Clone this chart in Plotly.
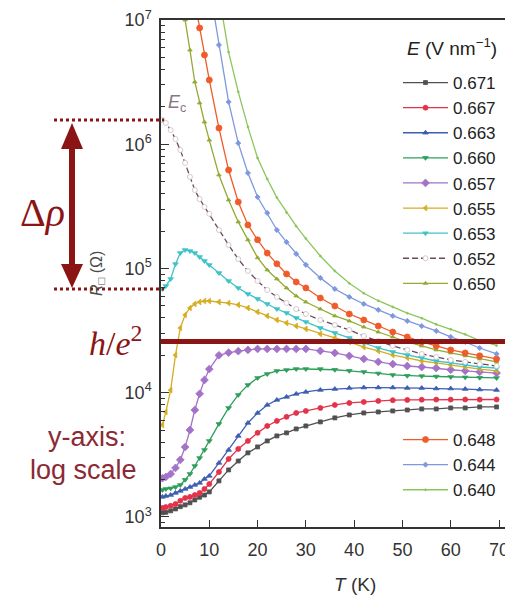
import math
import plotly.graph_objects as go

# ---------------- data ----------------
T_K = [0.3, 1, 2, 3, 4, 5, 6, 7, 8, 9, 10, 12, 14, 16, 18, 20, 22, 24, 26, 28,
       30, 33, 36, 39, 42, 45, 48, 51, 54, 57, 60, 63, 66, 69.5]

E_FIELDS = ["0.671", "0.667", "0.663", "0.660", "0.657", "0.655", "0.653",
            "0.652", "0.650", "0.648", "0.644", "0.640"]

R_0671 = [1080, 1090, 1120, 1160, 1210, 1250, 1300, 1370, 1440, 1500, 1590, 1950, 2390, 2820,
          3280, 3660, 4090, 4490, 4750, 5110, 5400, 5820, 6270, 6620, 6870, 7000, 7130, 7260,
          7400, 7400, 7540, 7540, 7680, 7680]
R_0667 = [1180, 1200, 1230, 1270, 1350, 1420, 1450, 1500, 1560, 1680, 1840, 2300, 2930, 3530,
          4090, 4750, 5400, 5930, 6390, 6870, 7130, 7540, 7970, 8270, 8430, 8590, 8700, 8750,
          8780, 8800, 8800, 8820, 8800, 8820]
R_0663 = [1450, 1475, 1500, 1560, 1620, 1680, 1740, 1810, 1880, 2020, 2140, 2720, 3460, 4490,
          5710, 6870, 7970, 8750, 9250, 9780, 10140, 10520, 10700, 10910, 11000, 11000, 11000,
          10900, 10900, 10800, 10800, 10700, 10600, 10500]
R_0660 = [1650, 1680, 1700, 1740, 1810, 1990, 2220, 2570, 2980, 3460, 4090, 5610, 7540, 9600,
          11540, 13150, 14160, 14970, 15230, 15520, 15520, 15500, 15300, 15000, 14700, 14300,
          13900, 13700, 13600, 13500, 13400, 13300, 13200, 13150]
R_0657 = [2050, 2100, 2220, 2480, 2880, 3650, 5010, 7260, 9800, 12660, 15500, 20000, 21000,
          21600, 22100, 22500, 22500, 22500, 22500, 22500, 22500, 21700, 20900, 19800, 18700,
          17700, 17000, 16400, 16100, 15800, 15300, 15000, 14700, 14400]
R_0655 = [5500, 7000, 10500, 20100, 33200, 42300, 48100, 51800, 53700, 54700, 54700, 53700,
          52700, 50900, 48100, 44700, 41500, 38500, 36400, 34400, 32600, 29700, 27600, 25600,
          23300, 21700, 20100, 19100, 18000, 17400, 16700, 16100, 15500, 15000]
R_0653 = [68400, 72300, 82300, 108600, 133300, 140900, 138000, 133300, 123800, 114900, 106700,
          92000, 79300, 69700, 62400, 56900, 51800, 47200, 43900, 40000, 37100, 33200, 30300,
          27600, 25100, 22900, 21300, 20100, 19100, 18000, 17400, 16700, 16100, 15800]
R_0652 = [1.567e6, 1.483e6, 1.30e6, 1.10e6, 8.99e5, 7.07e5, 5.45e5, 4.28e5, 3.62e5, 3.13e5,
          2.75e5, 2.04e5, 1.546e5, 1.19e5, 9.55e4, 7.93e4, 6.72e4, 5.90e4, 5.28e4, 4.72e4,
          4.30e4, 3.85e4, 3.51e4, 3.20e4, 2.86e4, 2.61e4, 2.38e4, 2.21e4, 2.05e4, 1.94e4,
          1.835e4, 1.77e4, 1.70e4, 1.64e4]
R_0650 = [None, None, None, 3.0e7, 1.77e7, 1.0e7, 5.73e6, 3.17e6, 2.15e6, 1.51e6, 1.08e6,
          5.66e5, 3.56e5, 2.37e5, 1.70e5, 1.22e5, 9.73e4, 8.23e4, 6.97e4, 6.01e4, 5.37e4,
          4.72e4, 4.15e4, 3.78e4, 3.38e4, 3.08e4, 2.81e4, 2.56e4, 2.38e4, 2.21e4, 2.09e4,
          1.98e4, 1.87e4, 1.77e4]
R_0648 = [None, None, None, None, None, None, 2.3e7, 1.40e7, 8.62e6, 5.23e6, 3.29e6, 1.35e6,
          6.2e5, 3.43e5, 2.24e5, 1.70e5, 1.33e5, 1.09e5, 9.03e4, 7.79e4, 6.97e4, 5.79e4,
          4.99e4, 4.30e4, 3.85e4, 3.44e4, 3.08e4, 2.81e4, 2.56e4, 2.38e4, 2.21e4, 2.09e4,
          1.98e4, 1.87e4]
R_0644 = [None, None, None, None, None, None, None, None, None, None, 1.9e7, 6.30e6, 2.19e6,
          1.02e6, 5.87e5, 3.76e5, 2.80e5, 2.04e5, 1.63e5, 1.31e5, 1.07e5, 8.40e4, 6.84e4,
          5.90e4, 5.18e4, 4.64e4, 4.15e4, 3.78e4, 3.44e4, 3.14e4, 2.81e4, 2.56e4, 2.29e4,
          2.05e4]
R_0640 = [None, None, None, None, None, None, None, None, None, None, None, 1.6e7, 5.52e6,
          2.64e6, 1.38e6, 7.76e5, 5.25e5, 3.72e5, 2.82e5, 2.19e5, 1.74e5, 1.26e5, 9.55e4,
          7.59e4, 6.31e4, 5.50e4, 4.90e4, 4.37e4, 3.98e4, 3.55e4, 3.24e4, 2.95e4, 2.63e4,
          2.40e4]

R_SERIES = [R_0671, R_0667, R_0663, R_0660, R_0657, R_0655, R_0653,
            R_0652, R_0650, R_0648, R_0644, R_0640]

H_OVER_E2 = 25813.0      # Ohm
E_C_R = 1.567e6          # resistance at E_c (top of delta rho)
DELTA_LOW_R = 6.84e4     # bottom of delta rho

X_TICKS = [0, 10, 20, 30, 40, 50, 60, 70]
Y_TICKS = [1e3, 1e4, 1e5, 1e6, 1e7]
Y_TICK_TEXT = ["10<sup>3</sup>", "10<sup>4</sup>", "10<sup>5</sup>",
               "10<sup>6</sup>", "10<sup>7</sup>"]

# ---------------- styling ----------------
STYLE = {
    "0.671": dict(color="#505050", symbol="square", size=4),
    "0.667": dict(color="#e3334b", symbol="circle", size=5),
    "0.663": dict(color="#3d5db3", symbol="triangle-up", size=5),
    "0.660": dict(color="#2f9e5c", symbol="triangle-down", size=5),
    "0.657": dict(color="#a372c9", symbol="diamond", size=6),
    "0.655": dict(color="#d6ad22", symbol="triangle-left", size=5),
    "0.653": dict(color="#3fc3c6", symbol="triangle-down", size=5),
    "0.652": dict(color="#6f4860", symbol="circle", size=5, fill="#ffffff",
                  mline="#c9bcc4", dash="6px,3px"),
    "0.650": dict(color="#93aa34", symbol="triangle-up", size=4),
    "0.648": dict(color="#ef5b29", symbol="circle", size=6),
    "0.644": dict(color="#7d98de", symbol="diamond", size=4),
    "0.640": dict(color="#8cc65e", symbol="circle", size=2),
}
LOWER_LEGEND = {"0.648", "0.644", "0.640"}

# The page body adds an 8px margin, so the figure is sized to the window minus it;
# helper functions below take positions measured on the 513x600 reference.
PAGE_OFF = 8
W, H = 505, 592
ML, MR, MT, MB = 153, 0, 12, 73
X_RANGE = [0, 72.9]
Y_RANGE_LOG = [2.919, 7.0]
DARK_RED = "#8b1414"
FONT = "Liberation Sans"


def xp(px):
    return (px - PAGE_OFF - ML) / (W - ML - MR)


def yp(py):
    return (H - MB - (py - PAGE_OFF)) / (H - MT - MB)


def yd(v):
    return (math.log10(v) - Y_RANGE_LOG[0]) / (Y_RANGE_LOG[1] - Y_RANGE_LOG[0])


def py_of(v):
    return H - MB - yd(v) * (H - MT - MB) + PAGE_OFF


fig = go.Figure()
for name, vals in zip(E_FIELDS, R_SERIES):
    st = STYLE[name]
    fig.add_trace(go.Scatter(
        x=T_K, y=vals, mode="lines+markers", name=name,
        legend="legend2" if name in LOWER_LEGEND else "legend",
        line=dict(color=st["color"], width=1.3, dash=st.get("dash", "solid")),
        marker=dict(symbol=st["symbol"], size=st["size"],
                    color=st.get("fill", st["color"]),
                    line=dict(color=st.get("mline", st["color"]), width=0.8)),
    ))

minor_vals = [m * 10 ** k for k in range(2, 7) for m in range(2, 10)]

shapes = [
    # h/e^2 line
    dict(type="line", xref="paper", yref="paper", x0=0, x1=1,
         y0=yd(H_OVER_E2), y1=yd(H_OVER_E2), line=dict(color=DARK_RED, width=5)),
    # dotted guide lines for delta rho
    dict(type="line", xref="paper", yref="paper", x0=xp(54), x1=xp(164),
         y0=yd(E_C_R), y1=yd(E_C_R), line=dict(color=DARK_RED, width=3, dash="dot")),
    dict(type="line", xref="paper", yref="paper", x0=xp(54), x1=xp(164),
         y0=yd(DELTA_LOW_R), y1=yd(DELTA_LOW_R), line=dict(color=DARK_RED, width=3, dash="dot")),
]
# double-headed arrow between the two guide lines
ytp = py_of(E_C_R) + 3
ybt = py_of(DELTA_LOW_R) - 1
shapes.append(dict(type="rect", xref="paper", yref="paper", x0=xp(69), x1=xp(75),
                   y0=yp(ytp + 24), y1=yp(ybt - 22), fillcolor=DARK_RED, line=dict(width=0)))
shapes.append(dict(type="path", xref="paper", yref="paper",
                   path=f"M{xp(72)},{yp(ytp)} L{xp(61)},{yp(ytp + 26)} L{xp(83)},{yp(ytp + 26)} Z",
                   fillcolor=DARK_RED, line=dict(width=0)))
shapes.append(dict(type="path", xref="paper", yref="paper",
                   path=f"M{xp(72)},{yp(ybt)} L{xp(61)},{yp(ybt - 24)} L{xp(83)},{yp(ybt - 24)} Z",
                   fillcolor=DARK_RED, line=dict(width=0)))


def ann(text, px, py, size, color, family=FONT, angle=0):
    return dict(text=text, x=xp(px), y=yp(py), xref="paper", yref="paper",
                showarrow=False, xanchor="center", yanchor="middle", textangle=angle,
                font=dict(family=family, size=size, color=color))


annotations = [
    ann("Δ<i>ρ</i>", 42, 212, 40, DARK_RED, family="Liberation Serif"),
    ann("<i>h</i>/<i>e</i><sup>2</sup>", 115, 341, 34, DARK_RED, family="Liberation Serif"),
    ann("<i>E</i><sub>c</sub>", 177, 104, 18, "#8a7585"),
    ann("y-axis:", 87, 437, 27, "#8b2a35"),
    ann("log scale", 83, 470, 27, "#8b2a35"),
    ann("<i>T</i> (K)", 355, 584, 19, "#333333"),
    ann("<i>R</i><sub>□</sub> (Ω)", 97, 274, 16, "#4a4a4a", angle=-90),
    ann("<i>E</i> (V nm<sup>−1</sup>)", 452, 47, 19, "#222222"),
]

legend_common = dict(xanchor="left", yanchor="top", bgcolor="rgba(0,0,0,0)",
                     font=dict(family=FONT, size=17, color="#222222"),
                     itemwidth=45, tracegroupgap=0, borderwidth=0)

fig.update_layout(
    width=W, height=H, autosize=False,
    margin=dict(l=ML, r=MR, t=MT, b=MB, pad=0),
    paper_bgcolor="white", plot_bgcolor="white",
    showlegend=True,
    legend=dict(x=xp(398), y=yp(65), **legend_common),
    legend2=dict(x=xp(398), y=yp(422), **legend_common),
    xaxis=dict(range=X_RANGE, tickmode="array", tickvals=X_TICKS, ticks="inside",
               ticklen=7, tickwidth=1.3, tickcolor="#333333", showline=True,
               linecolor="#333333", linewidth=1.5, mirror=True, showgrid=False,
               zeroline=False, ticklabelstandoff=6, ticklabeloverflow="allow",
               tickfont=dict(family=FONT, size=18, color="#333333")),
    yaxis=dict(type="log", range=Y_RANGE_LOG, tickmode="array", tickvals=Y_TICKS,
               ticktext=Y_TICK_TEXT, ticks="inside", ticklen=8, tickwidth=1.3,
               tickcolor="#333333", showline=True, linecolor="#333333", linewidth=1.5,
               showgrid=False, zeroline=False, ticklabelstandoff=4,
               ticklabeloverflow="allow",
               minor=dict(tickmode="array", tickvals=minor_vals, ticks="inside",
                          ticklen=4, tickwidth=1, tickcolor="#333333"),
               tickfont=dict(family=FONT, size=18, color="#333333")),
    shapes=shapes,
    annotations=annotations,
)

fig.write_html("out.html")
